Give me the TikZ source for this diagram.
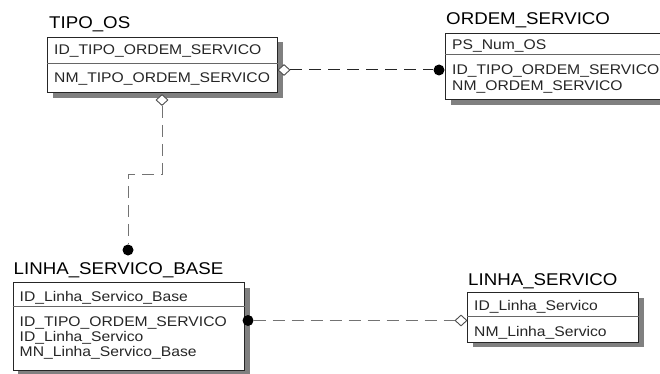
\documentclass[tikz,border=0pt]{standalone}
\usepackage{fontspec}
\setmainfont{Liberation Sans}
\newfontfamily\attrfamily{Liberation Sans}[FakeStretch=1.12]
\newfontfamily\titlefamily{Liberation Sans}[FakeStretch=1.1]
\usetikzlibrary{shapes.geometric,shadows,calc}

\begin{document}
\begin{tikzpicture}[x=1pt,y=-1pt,
  entity/.style={draw=black!85, line width=1pt, fill=white, anchor=north west,
    inner sep=0pt,
    drop shadow={shadow xshift=5pt, shadow yshift=-5pt, fill=black!50, opacity=1}},
  title/.style={anchor=base west, inner sep=0pt,
    font=\titlefamily\fontsize{17}{17}\selectfont},
  attr/.style={anchor=base west, inner sep=0pt, text=black!85,
    font=\attrfamily\fontsize{14}{14}\selectfont},
  divider/.style={draw=black!60, line width=1pt},
  link/.style={draw=black!55, line width=1pt, dash pattern=on 12pt off 7pt},
  nonid/.style={diamond, draw=black!70, fill=white, line width=0.9pt,
    inner sep=0pt, minimum width=12pt, minimum height=11pt},
  dot/.style={circle, fill=black, inner sep=0pt, minimum size=11pt}]

\useasboundingbox (0,0) rectangle (660,374);
\clip (0,0) rectangle (660,374);

% entity boxes
\node[entity, minimum width=230pt, minimum height=55.5pt] (tipo) at (47,37) {};
\node[entity, minimum width=225pt, minimum height=66pt] (ordem) at (445,33.3) {};
\node[entity, minimum width=231.5pt, minimum height=88pt] (lsb) at (12.5,282) {};
\node[entity, minimum width=171.3pt, minimum height=49.4pt] (ls) at (467,292.3) {};

% key / non-key separators
\draw[divider] (tipo.west |- 0,63.5) -- (tipo.east |- 0,63.5);
\draw[divider] (ordem.west |- 0,55) -- (ordem.east |- 0,55);
\draw[divider] (lsb.west |- 0,306) -- (lsb.east |- 0,306);
\draw[divider] (ls.west |- 0,316.7) -- (ls.east |- 0,316.7);

% entity names
\node[title] (tipoT)  at (49,29)    {TIPO\_OS};
\node[title] (ordemT) at (446,24.5) {ORDEM\_SERVICO};
\node[title] (lsbT)   at (13.5,274.5) {LINHA\_SERVICO\_BASE};
\node[title] (lsT)    at (468,285)  {LINHA\_SERVICO};

% attributes
\node[attr] (tipoA1) at (54,55)   {ID\_TIPO\_ORDEM\_SERVICO};
\node[attr] (tipoA2) at (54,82.5) {NM\_TIPO\_ORDEM\_SERVICO};

\node[attr] (ordemA1) at (452,49.5) {PS\_Num\_OS};
\node[attr] (ordemA2) at (452,75)   {ID\_TIPO\_ORDEM\_SERVICO};
\node[attr] (ordemA3) at (452,90.5) {NM\_ORDEM\_SERVICO};

\node[attr] (lsbA1) at (19.5,301) {ID\_Linha\_Servico\_Base};
\node[attr] (lsbA2) at (19.5,326) {ID\_TIPO\_ORDEM\_SERVICO};
\node[attr] (lsbA3) at (19.5,341) {ID\_Linha\_Servico};
\node[attr] (lsbA4) at (19.5,356) {MN\_Linha\_Servico\_Base};

\node[attr] (lsA1) at (474,310)   {ID\_Linha\_Servico};
\node[attr] (lsA2) at (474,336.5) {NM\_Linha\_Servico};

% relationship ends
\node[nonid] (d1) at (284,70) {};
\node[dot]   (c1) at (439,70) {};
\node[nonid] (d2) at (162,100) {};
\coordinate (k1) at (162,174);
\coordinate (k2) at (128,174);
\node[dot]   (c2) at (128,250) {};
\node[dot]   (c3) at (248,320.5) {};
\node[nonid] (d3) at (461,320.5) {};

% relationships
\draw[link, draw=black!85] (d1.east) -- (c1.west);
\draw[link] (d2.south) -- (k1) -- (k2) -- (c2.north);
\draw[link] (c3.east) -- (d3.west);

\end{tikzpicture}
\end{document}
